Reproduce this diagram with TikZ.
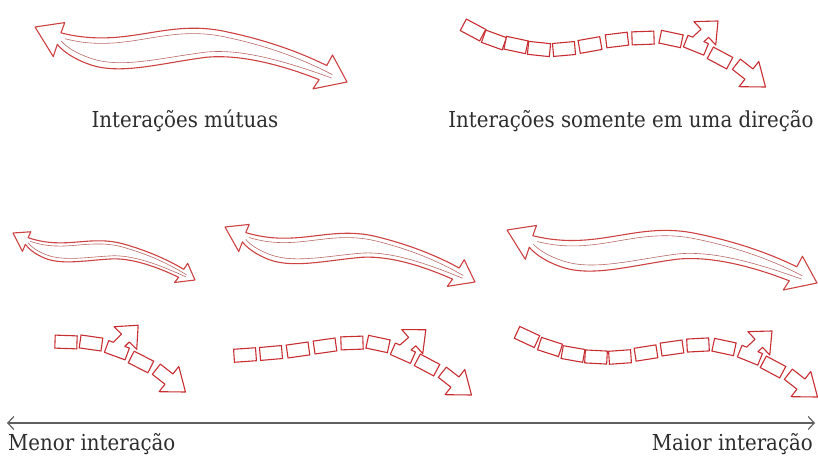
\documentclass[tikz,border=0pt]{standalone}
\usepackage{fontspec}
\setmainfont{DejaVu Serif Condensed}
\usetikzlibrary{arrows.meta}
\definecolor{linkred}{RGB}{200,45,50}
\definecolor{ribbonred}{RGB}{205,65,65}
\definecolor{innerred}{RGB}{185,105,105}
\definecolor{axisgray}{RGB}{95,95,95}
\definecolor{textgray}{RGB}{45,45,45}

\tikzset{
  % double headed ribbon, drawn from tip (0,0) to tip (1,0)
  mutual/.pic={
    \draw[draw=ribbonred, line width=1.1pt, fill=white, line join=round]
      (0,0) -- (0.09,0.03) -- (0.084,-0.004)
      .. controls (0.3,-0.02) and (0.4,0.1) .. (0.6,0.09)
      .. controls (0.75,0.085) and (0.86,0.06) .. (0.928,0.04)
      -- (0.94,0.076) -- (1,0) -- (0.898,-0.04) -- (0.912,-0.008)
      .. controls (0.8,0.015) and (0.66,0.03) .. (0.55,0)
      .. controls (0.42,-0.04) and (0.3,-0.1) .. (0.2,-0.088)
      .. controls (0.14,-0.08) and (0.1,-0.06) .. (0.079,-0.042)
      -- (0.073,-0.082) -- cycle;
    \draw[innerred, line width=0.6pt]
      (0.1,-0.02) .. controls (0.3,-0.036) and (0.4,0.082) .. (0.6,0.073)
      .. controls (0.75,0.068) and (0.86,0.043) .. (0.95,0.015);
    \draw[innerred, line width=0.6pt]
      (0.95,0.004) .. controls (0.8,0.03) and (0.66,0.046) .. (0.55,0.017)
      .. controls (0.42,-0.022) and (0.3,-0.08) .. (0.2,-0.068)
      .. controls (0.14,-0.06) and (0.11,-0.045) .. (0.09,-0.03);
  },
  % link with a block arrow leaving it sideways
  uppiece/.pic={
    \draw[draw=linkred, line width=1.1pt, fill=white, line join=round]
      (-11,6.5) -- (11,6.5) -- (11,-6) -- (6.1,-6) -- (8.8,-11.8) -- (18.3,-7.4)
      -- (11.4,-30.5) -- (-10.7,-20.9) -- (-1.2,-16.5) -- (-6.1,-6) -- (-11,-6) -- cycle;
  },
  % block arrow closing the chain
  endpiece/.pic={
    \draw[draw=linkred, line width=1.1pt, fill=white, line join=round]
      (-11,-6.5) -- (5,-6.5) -- (5,-16) -- (26,0) -- (5,16) -- (5,6.5) -- (-11,6.5) -- cycle;
  }
}

\begin{document}
\begin{tikzpicture}[
    x=1bp, y=-1bp,
    link/.style={draw=linkred, line width=1.1pt, fill=white, rectangle, minimum width=22bp, minimum height=13bp, inner sep=0pt},
    caption/.style={font=\fontsize{22bp}{26bp}\selectfont, text=textgray, inner sep=0pt},
    axisline/.style={draw=axisgray, line width=1.2pt, arrows={Straight Barb[length=6bp,width=13bp]-Straight Barb[length=6bp,width=13bp]}}
]
\useasboundingbox (0,0) rectangle (818,459);

% Mutual interactions
\begin{scope}[shift={(35,27)}, x={(312bp,-55bp)}, y={(55bp,312bp)}]
  \pic {mutual};
\end{scope}
\node[caption, anchor=base] (mutualtxt) at (185,128) {Interações mútuas};

% One way interactions
\foreach \x/\y/\a [count=\i] in {473/30/-28, 494/40/-20, 516/45/-12, 539/49/-6, 564/49/5, 590/45/10, 617/40/7, 643/38/2, 671/39/-12, 720/58/-28}
  \node[link, rotate=\a] (top\i) at (\x,\y) {};
\pic[rotate=-22] at (696,45) {uppiece};
\pic[rotate=-38] at (745,71) {endpiece};
\node[caption, anchor=base] (onewaytxt) at (631,128) {Interações somente em uma direção};

% Scale, low interaction
\begin{scope}[shift={(13,233)}, x={(182bp,-47bp)}, y={(47bp,182bp)}]
  \pic {mutual};
\end{scope}
\foreach \x/\y/\a [count=\i] in {66/342/-2, 91/343/-8, 141/362/-27}
  \node[link, rotate=\a] (low\i) at (\x,\y) {};
\pic[rotate=-20] at (117,350) {uppiece};
\pic[rotate=-38] at (165,376) {endpiece};

% Scale, medium interaction
\begin{scope}[shift={(225,227)}, x={(250bp,-55bp)}, y={(55bp,250bp)}]
  \pic {mutual};
\end{scope}
\foreach \x/\y/\a [count=\i] in {245/355/4, 271/353/5, 298/350/8, 325/346/8, 352/343/2, 378/344/-12, 427/365/-28}
  \node[link, rotate=\a] (mid\i) at (\x,\y) {};
\pic[rotate=-24] at (403,353) {uppiece};
\pic[rotate=-38] at (451,379) {endpiece};

% Scale, high interaction
\begin{scope}[shift={(507,230)}, x={(310bp,-53bp)}, y={(53bp,310bp)}]
  \pic {mutual};
\end{scope}
\foreach \x/\y/\a [count=\i] in {527/337/-25, 550/347/-18, 573/354/-10, 596/357/-3, 620/357/4, 646/353/9, 672/348/8, 698/345/3, 724/347/-12, 773/367/-28}
  \node[link, rotate=\a] (high\i) at (\x,\y) {};
\pic[rotate=-22] at (750,355) {uppiece};
\pic[rotate=-38] at (797,381) {endpiece};

% Axis
\coordinate (axisL) at (7,423);
\coordinate (axisR) at (815,423);
\draw[axisline] (axisL) -- (axisR);
\node[caption, anchor=base west] (lowtxt) at (8,450) {Menor interação};
\node[caption, anchor=base east] (hightxt) at (813,450) {Maior interação};

\end{tikzpicture}
\end{document}
